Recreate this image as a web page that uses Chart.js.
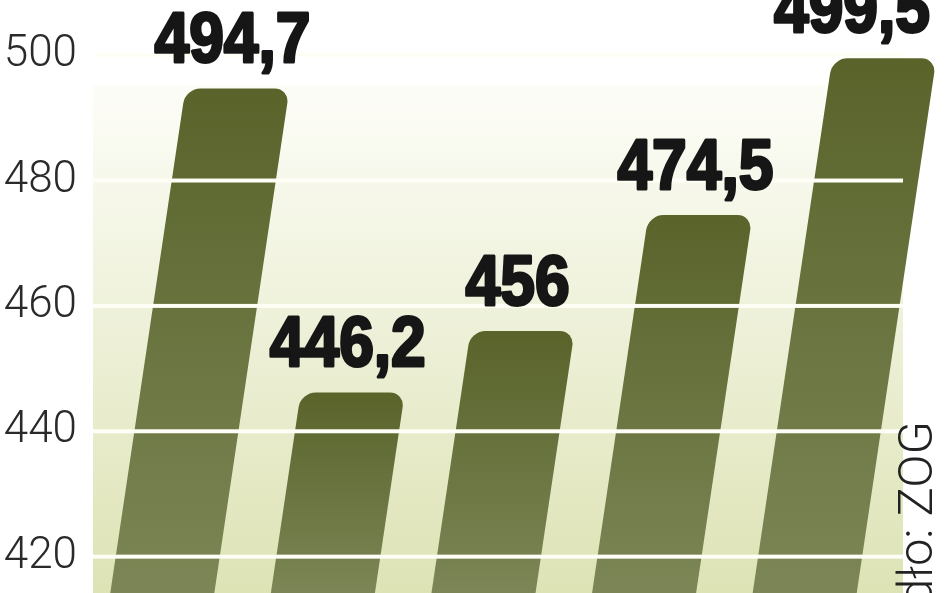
<!DOCTYPE html>
<html><head><meta charset="utf-8">
<style>html,body{margin:0;padding:0;background:#fff;overflow:hidden}#wrap{width:948px;height:593px;position:relative}</style>
<script src="https://cdn.jsdelivr.net/npm/chart.js@4.4.1/dist/chart.umd.min.js"></script>
</head><body><div id="wrap"><canvas id="c"></canvas></div>
<script>
const categories = ['1', '2', '3', '4', '5'];
const values = [494.7, 446.2, 456, 474.5, 499.5];
const valueLabels = ['494,7', '446,2', '456', '474,5', '499,5'];
const yTicks = [420, 440, 460, 480, 500];
const sourceText = 'źródło: ZOG';

const SKEW = 0.149;

const decoPlugin = {
  id: 'deco',
  beforeDraw(chart) {
    const ctx = chart.ctx, a = chart.chartArea;
    ctx.save();
    ctx.fillStyle = '#ffffff';
    ctx.fillRect(0, 0, chart.width, chart.height);
    const l = a.left + 11, r = a.right + 18, t = 85, b = a.bottom;
    const g = ctx.createLinearGradient(0, t, 0, b);
    g.addColorStop(0, '#fdfdf8');
    g.addColorStop(1, '#dde3b5');
    ctx.fillStyle = g;
    ctx.fillRect(l, t, r - l, b - t);
    ctx.restore();
  },
  beforeDatasetsDraw(chart) {
    const ctx = chart.ctx, a = chart.chartArea;
    ctx.save();
    ctx.transform(1, 0, -SKEW, 1, SKEW * a.bottom, 0);
  },
  afterDatasetsDraw(chart) {
    const ctx = chart.ctx, a = chart.chartArea;
    ctx.restore();
    const ys = chart.scales.y;
    const l = a.left + 11, r = a.right + 18;
    ctx.save();
    ctx.fillStyle = '#fffef6';
    yTicks.forEach(v => {
      const y = ys.getPixelForValue(v);
      ctx.fillRect(l, y - 2, r - l, 4);
    });
    ctx.restore();
    const meta = chart.getDatasetMeta(0);
    ctx.save();
    ctx.font = 'bold 70px "Liberation Sans Narrow", "Liberation Sans", sans-serif';
    const ref = ctx.measureText('494,7').width;
    const s = 156 / ref;
    ctx.fillStyle = '#161616';
    ctx.strokeStyle = '#161616';
    ctx.lineWidth = 3;
    ctx.lineJoin = 'round';
    ctx.textAlign = 'center';
    ctx.textBaseline = 'alphabetic';
    meta.data.forEach((el, i) => {
      const txt = valueLabels[i];
      const w = ctx.measureText(txt).width * s;
      let cx = el.x + SKEW * (a.bottom - el.y) - 5;
      cx = Math.min(cx, chart.width - 18 - w / 2);
      const by = el.y - 26;
      ctx.save();
      ctx.translate(cx, by);
      ctx.scale(s, 1);
      ctx.strokeText(txt, 0, 0);
      ctx.fillText(txt, 0, 0);
      ctx.restore();
    });
    ctx.restore();
  },
  afterDraw(chart) {
    const ctx = chart.ctx;
    ctx.save();
    ctx.translate(932, 421);
    ctx.rotate(-Math.PI / 2);
    ctx.font = '300 49px Roboto, "Noto Sans", sans-serif';
    ctx.fillStyle = '#222222';
    ctx.textAlign = 'right';
    ctx.textBaseline = 'alphabetic';
    ctx.fillText(sourceText, 0, 0);
    ctx.restore();
  }
};

new Chart(document.getElementById('c'), {
  type: 'bar',
  data: {
    labels: categories,
    datasets: [{
      data: values,
      backgroundColor: (c) => {
        const chart = c.chart, area = chart.chartArea;
        if (!area || c.type !== 'data' || !chart.scales.y) return '#6b7440';
        const top = chart.scales.y.getPixelForValue(values[c.dataIndex]);
        const g = chart.ctx.createLinearGradient(0, top, 0, area.bottom);
        g.addColorStop(0, '#59632a');
        g.addColorStop(1, '#7c8656');
        return g;
      },
      borderWidth: 0,
      borderSkipped: 'start',
      borderRadius: { topLeft: 15, topRight: 15, bottomLeft: 0, bottomRight: 0 },
      barPercentage: 0.648,
      categoryPercentage: 1.0
    }]
  },
  options: {
    responsive: true,
    maintainAspectRatio: false,
    animation: false,
    devicePixelRatio: 1,
    layout: { padding: { left: 0, right: 63, top: 0, bottom: 0 } },
    plugins: { legend: { display: false }, tooltip: { enabled: false }, title: { display: false } },
    scales: {
      x: { display: false },
      y: {
        min: 414.2,
        max: 508.8,
        grid: { display: false, drawTicks: false },
        border: { display: false },
        ticks: {
          stepSize: 20,
          includeBounds: false,
          padding: 5,
          color: '#2a2a2a',
          font: { family: 'Roboto, "Noto Sans", sans-serif', size: 44, weight: '300' },
          callback: (v) => yTicks.includes(v) ? String(v) : null
        },
        afterBuildTicks: (scale) => { scale.ticks = yTicks.map(v => ({ value: v })); },
        afterFit: (scale) => { scale.width = 82; scale.paddingTop = 0; scale.paddingBottom = 0; }
      }
    }
  },
  plugins: [decoPlugin]
});
</script>
</body></html>
